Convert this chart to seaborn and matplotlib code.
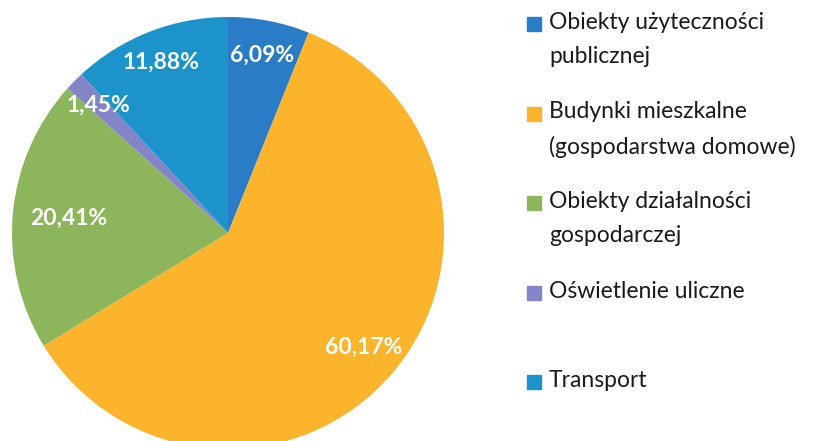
import numpy as np
import matplotlib.pyplot as plt
import seaborn as sns
from matplotlib.patches import Rectangle

# data
categories = ['Obiekty użyteczności\npublicznej',
              'Budynki mieszkalne\n(gospodarstwa domowe)',
              'Obiekty działalności\ngospodarczej',
              'Oświetlenie uliczne',
              'Transport']
shares = [6.09, 60.17, 20.41, 1.45, 11.88]
colors = ['#2A7CC6', '#FBB42C', '#8CB55C', '#8485C9', '#1C94CB']
label_dist = [0.84, 0.82, 0.74, 0.84, 0.85]

sns.set_theme(style="white")
plt.rcParams['font.family'] = ['Lato', 'DejaVu Sans']

fig = plt.figure(figsize=(8.18, 4.41), dpi=100)
ax = fig.add_axes([12 / 818, (441 - 233 - 216) / 441, 432 / 818, 432 / 441])

wedges, texts, autotexts = ax.pie(
    shares, colors=sns.color_palette(colors), startangle=90, counterclock=False,
    autopct=lambda p: f"{p:.2f}%".replace('.', ','), pctdistance=0.82,
    textprops=dict(color='white', fontsize=16.5, fontweight='bold'),
    wedgeprops=dict(linewidth=0))

# move labels along each wedge's bisector
for w, t, d in zip(wedges, autotexts, label_dist):
    ang = np.deg2rad((w.theta1 + w.theta2) / 2)
    t.set_position((d * np.cos(ang), d * np.sin(ang)))

ax.set_xlim(-1, 1)
ax.set_ylim(-1, 1)
ax.set_aspect('equal')

# Excel-like legend: marker aligned with the first line of each entry
top_px, step_px = 24, 89.5
for i, (lab, col) in enumerate(zip(categories, colors)):
    yc = 1 - (top_px + i * step_px) / 441
    fig.patches.append(Rectangle((527 / 818, yc - 7 / 441), 14 / 818, 14 / 441,
                                 transform=fig.transFigure, color=col))
    fig.text(549 / 818, yc + 12 / 441, lab, va='top', ha='left', fontsize=16.5,
             color='#1a1a1a', linespacing=1.75)

fig.savefig('out.png', dpi=100)
